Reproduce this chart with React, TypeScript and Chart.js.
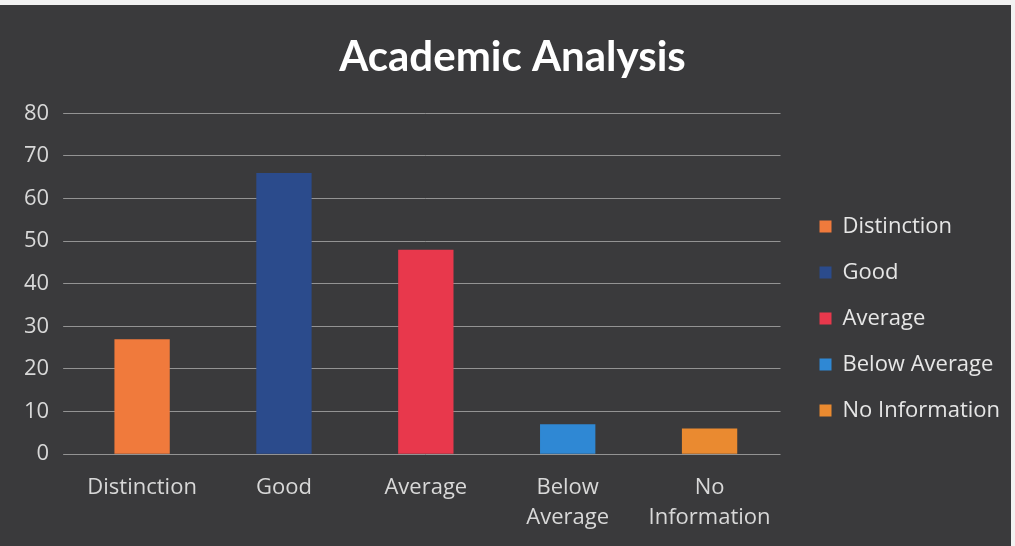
import React, { useEffect, useRef } from "react";
import { Chart, registerables } from "chart.js";

Chart.register(...registerables);

const categories = ["Distinction", "Good", "Average", "Below Average", "No Information"];
const tickLabels = [["Distinction"], ["Good"], ["Average"], ["Below", "Average"], ["No", "Information"]];
const values = [27, 66, 48, 7, 6];
const barColors = ["#f07a3c", "#2b4b8c", "#e8384c", "#2f88d4", "#ea8a30"];
const chartTitle = "Academic Analysis";

const FONT = "'Open Sans', Lato, sans-serif";
const TITLE_FONT = "Lato, 'Open Sans', sans-serif";
const LEGEND_GAP = 15;
const TITLE_SHIFT = 20;

const bgPlugin = {
  id: "bg",
  beforeDraw(chart: any) {
    const { ctx, width, height } = chart;
    ctx.save();
    ctx.fillStyle = "#f2f2f2";
    ctx.fillRect(0, 0, width, height);
    ctx.fillStyle = "#3a3a3c";
    ctx.fillRect(0, 5, width - 4, height - 5);
    ctx.restore();
  },
};

// moves the legend a little further away from the plot area, and nudges the title
const layoutTweakPlugin = {
  id: "layoutTweak",
  afterLayout(chart: any) {
    if (chart.legend) {
      chart.legend.left += LEGEND_GAP;
      chart.legend.right += LEGEND_GAP;
    }
    if (chart.titleBlock) {
      chart.titleBlock.left += TITLE_SHIFT;
    }
  },
};

export default function App() {
  const ref = useRef<HTMLCanvasElement>(null);
  useEffect(() => {
    if (!ref.current) return;
    const chart = new Chart(ref.current, {
      type: "bar",
      data: {
        labels: tickLabels as any,
        datasets: [
          {
            label: chartTitle,
            data: values,
            backgroundColor: barColors,
            borderWidth: 0,
            categoryPercentage: 1,
            barPercentage: 0.39,
          },
        ],
      },
      options: {
        animation: false,
        responsive: false,
        maintainAspectRatio: false,
        layout: { padding: { left: 10, right: 20, top: 0, bottom: 2 } },
        plugins: {
          title: {
            display: true,
            text: chartTitle,
            color: "#ffffff",
            font: { family: TITLE_FONT, size: 42, weight: "bold" },
            padding: { top: 32, bottom: 31 },
          },
          legend: {
            position: "right",
            align: "center",
            title: {
              display: true,
              text: " ",
              font: { size: 4 },
              padding: { top: 88, bottom: 0 },
            },
            labels: {
              color: "#e6e6e6",
              font: { family: FONT, size: 22 },
              boxWidth: 12,
              boxHeight: 12,
              padding: 24,
              generateLabels: () =>
                categories.map((c, i) => ({
                  text: c,
                  fillStyle: barColors[i],
                  strokeStyle: barColors[i],
                  lineWidth: 0,
                  fontColor: "#e6e6e6",
                  hidden: false,
                  index: i,
                })),
            },
          },
          tooltip: { enabled: false },
        },
        scales: {
          x: {
            grid: { display: false },
            border: { display: false },
            ticks: {
              color: "#d8d8d8",
              font: { family: FONT, size: 22, lineHeight: 1.36 },
              padding: 11,
              maxRotation: 0,
            },
          },
          y: {
            min: 0,
            max: 80,
            grid: { color: "#939393", lineWidth: 1, drawTicks: true, tickLength: 8, tickColor: "#939393" },
            border: { display: false },
            ticks: {
              stepSize: 10,
              color: "#d8d8d8",
              font: { family: FONT, size: 22 },
              padding: 14,
            },
          },
        },
      },
      plugins: [bgPlugin, layoutTweakPlugin],
    });
    return () => chart.destroy();
  }, []);
  return (
    <div style={{ position: "absolute", left: 0, top: 0, width: 1015, height: 546 }}>
      <canvas ref={ref} width={1015} height={546} style={{ display: "block", width: 1015, height: 546 }} />
    </div>
  );
}
